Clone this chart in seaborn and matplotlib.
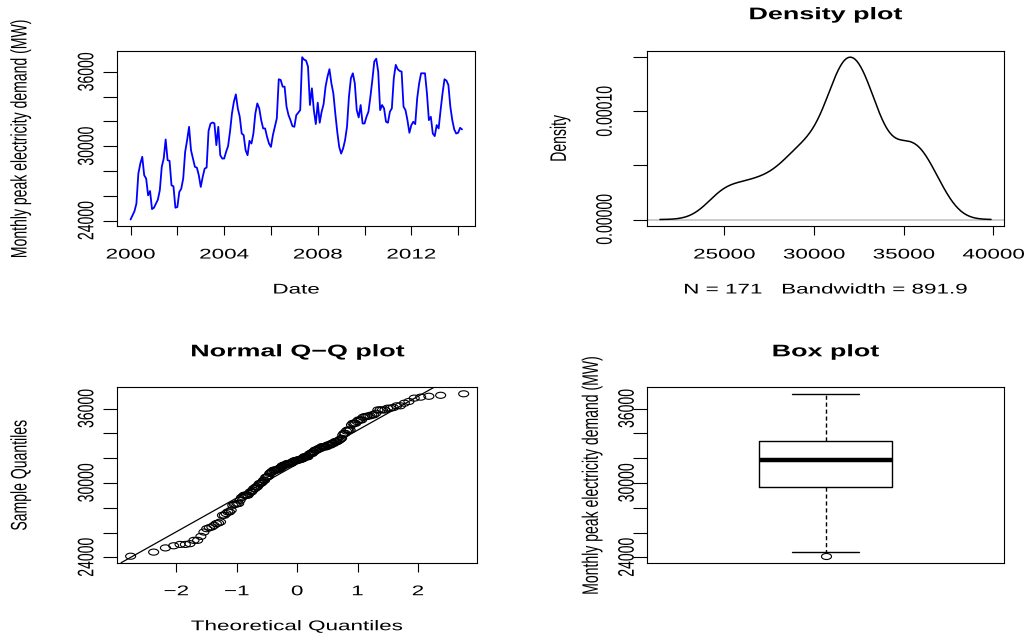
import numpy as np
import pandas as pd
import seaborn as sns
import matplotlib
matplotlib.use("Agg")
import matplotlib.pyplot as plt
from matplotlib.patheffects import AbstractPathEffect
from matplotlib.transforms import Affine2D
from matplotlib.path import Path
from matplotlib.text import Text
from statistics import NormalDist

# Monthly peak electricity demand (MW), January 2000 to March 2014
demand = [
    24090, 24420, 24760, 25370, 27800, 28600, 29150, 27660, 27390, 26040, 26390, 24930,
    25040, 25370, 25690, 26450, 28340, 29010, 30550, 28880, 28820, 26850, 26770, 25040,
    25100, 26310, 26580, 27390, 29550, 30490, 31570, 29680, 29010, 28340, 28280, 27660,
    26720, 27530, 28200, 28280, 31240, 31820, 31920, 31850, 30090, 31570, 29280, 29010,
    29010, 29550, 30010, 31170, 32650, 33600, 34190, 33060, 32380, 31030, 30900, 29680,
    29280, 30440, 30220, 31030, 32650, 33460, 33060, 32110, 31440, 31440, 30760, 30220,
    29950, 30900, 31570, 32250, 35410, 35350, 34810, 34810, 33190, 32520, 32110, 31630,
    31570, 32520, 32710, 32920, 37190, 36990, 36920, 36430, 33330, 34680, 32920, 31790,
    33520, 31900, 32790, 33400, 34810, 35620, 36220, 35080, 34270, 32650, 31170, 29950,
    29410, 29820, 30490, 31570, 34000, 35490, 35890, 35080, 32920, 32330, 33330, 31840,
    31840, 32380, 32790, 34000, 35350, 36840, 37070, 36030, 32920, 33330, 33060, 31980,
    31900, 32790, 33060, 35490, 36570, 36220, 36080, 36030, 33190, 32920, 32110, 31090,
    31710, 31980, 31790, 33870, 35080, 35890, 35890, 35890, 34270, 32110, 32380, 31030,
    30820, 31710, 31440, 32920, 34270, 35410, 35300, 34950, 33190, 32110, 31360, 31030,
    31090, 31490, 31360,
]
start_year = 2000

year_ticks = [2000, 2002, 2004, 2006, 2008, 2010, 2012, 2014]
year_tick_labels = ["2000", "", "2004", "", "2008", "", "2012", ""]
demand_ticks = [24000, 26000, 28000, 30000, 32000, 34000, 36000]
demand_tick_labels = ["24000", "", "", "30000", "", "", "36000"]
density_x_ticks = [25000, 30000, 35000, 40000]
density_x_tick_labels = ["25000", "30000", "35000", "40000"]
density_y_ticks = [0.0, 0.00005, 0.00010, 0.00015]
density_y_tick_labels = ["0.00000", "", "0.00010", ""]
qq_x_ticks = [-2, -1, 0, 1, 2]
qq_x_tick_labels = ["\u22122", "\u22121", "0", "1", "2"]
bandwidth = 891.9

demand_label = "Monthly peak electricity demand (MW)"

W, H = 1029, 636
BASE = 10.1      # regular text size (pt)
TITLE = 12.1     # panel titles (pt)

sns.set_style("ticks")
plt.rcParams.update({
    "axes.edgecolor": "black",
    "axes.linewidth": 0.8,
    "xtick.color": "black",
    "ytick.color": "black",
    "text.color": "black",
    "axes.labelcolor": "black",
    "axes.facecolor": "white",
    "figure.facecolor": "white",
})
plt.rcParams["font.family"] = ["Liberation Sans", "DejaVu Sans"]


class WideGlyphs(AbstractPathEffect):
    """Fill text outlines widened horizontally about their own centre."""

    def __init__(self, factor):
        super().__init__()
        self.factor = factor

    def draw_path(self, renderer, gc, tpath, affine, rgbFace=None):
        if len(tpath.vertices) == 0:
            return
        box = tpath.transformed(affine).get_extents()
        cx = 0.5 * (box.x0 + box.x1)
        widen = Affine2D().translate(-cx, 0).scale(self.factor, 1).translate(cx, 0)
        renderer.draw_path(gc, tpath, affine + widen, rgbFace)


def r_range(lo, hi):
    pad = 0.04 * (hi - lo)
    return lo - pad, hi + pad


fig = plt.figure(figsize=(W / 100, H / 100), dpi=100)


def px_axes(left, top, right, bottom):
    return fig.add_axes([left / W, 1 - bottom / H, (right - left) / W, (bottom - top) / H])


ax_ts = px_axes(117.3, 50.7, 475.3, 226.0)
ax_kde = px_axes(646.7, 50.7, 1004.3, 226.0)
ax_qq = px_axes(117.3, 387.3, 477.0, 562.7)
ax_box = px_axes(646.7, 387.3, 1004.3, 562.7)

values = np.asarray(demand, dtype=float)
n = len(values)

# open circle squashed vertically, used for sample points and outliers
ring = Path.unit_circle().transformed(Affine2D().scale(1.65, 1.0))

# --- time series -----------------------------------------------------------
ts = pd.DataFrame({"date": start_year + np.arange(n) / 12.0, "demand": values})
sns.lineplot(data=ts, x="date", y="demand", ax=ax_ts, color="#0000FF", linewidth=1.3)
ax_ts.set_xlim(*r_range(ts["date"].min(), ts["date"].max()))
ax_ts.set_ylim(*r_range(values.min(), values.max()))
ax_ts.set_xticks(year_ticks, labels=year_tick_labels)
ax_ts.set_yticks(demand_ticks, labels=demand_tick_labels)

# --- density ---------------------------------------------------------------
sns.kdeplot(x=values, ax=ax_kde, bw_method=bandwidth / values.std(ddof=1),
            cut=3, gridsize=512, color="black", linewidth=1.1)
kx = ax_kde.lines[0].get_xdata()
ky = ax_kde.lines[0].get_ydata()
ax_kde.axhline(0, color="#BEBEBE", linewidth=1.1, zorder=1)
ax_kde.set_xlim(*r_range(kx.min(), kx.max()))
ax_kde.set_ylim(*r_range(0.0, ky.max()))
ax_kde.set_xticks(density_x_ticks, labels=density_x_tick_labels)
ax_kde.set_yticks(density_y_ticks, labels=density_y_tick_labels)

# --- normal Q-Q --------------------------------------------------------------
probs = (np.arange(1, n + 1) - 0.5) / n
theoretical = np.array([NormalDist().inv_cdf(p) for p in probs])
sample = np.sort(values)
sns.scatterplot(x=theoretical, y=sample, ax=ax_qq, marker=ring, s=52,
                facecolors="none", edgecolor="black", linewidth=0.8)
q1, q3 = np.quantile(values, [0.25, 0.75])
z1, z3 = NormalDist().inv_cdf(0.25), NormalDist().inv_cdf(0.75)
ax_qq.axline((z1, q1), slope=(q3 - q1) / (z3 - z1), color="black", linewidth=0.9)
ax_qq.set_xlim(*r_range(theoretical.min(), theoretical.max()))
ax_qq.set_ylim(*r_range(values.min(), values.max()))
ax_qq.set_xticks(qq_x_ticks, labels=qq_x_tick_labels)
ax_qq.set_yticks(demand_ticks, labels=demand_tick_labels)

# --- box plot ----------------------------------------------------------------
sns.boxplot(y=values, ax=ax_box, width=0.372, fill=False, color="black",
            linewidth=1.0, whis=1.5,
            medianprops={"linewidth": 3.2, "color": "black"},
            whiskerprops={"linestyle": (0, (3, 2)), "color": "black"},
            capprops={"color": "black"},
            boxprops={"color": "black"},
            flierprops={"marker": ring, "markersize": 7.2, "markerfacecolor": "none",
                        "markeredgecolor": "black", "markeredgewidth": 0.8})
ax_box.set_xlim(-0.5, 0.5)
ax_box.set_ylim(*r_range(values.min(), values.max()))
ax_box.set_xticks([])
ax_box.set_yticks(demand_ticks, labels=demand_tick_labels)

# --- shared styling ------------------------------------------------------------
axes_px = {
    # axes: (width px, height px, y tick label centre offset, y label centre offset)
    ax_ts: (358.0, 175.3, 31, 97),
    ax_kde: (357.6, 175.3, 42, 87),
    ax_qq: (359.7, 175.4, 31, 97),
    ax_box: (357.6, 175.4, 20, 55),
}
for ax, (wpx, hpx, tick_off, lab_off) in axes_px.items():
    for side in ["top", "right", "bottom", "left"]:
        ax.spines[side].set_visible(True)
        ax.spines[side].set_linewidth(0.8)
    ax.tick_params(axis="x", direction="out", length=6.5, width=0.8, pad=9.0, labelsize=BASE)
    ax.tick_params(axis="y", direction="out", length=10.0, width=0.8,
                   pad=(tick_off - 14) * 0.72, labelsize=BASE, labelrotation=90)
    plt.setp(ax.get_yticklabels(), va="center", ha="center")
    ax.set_xlabel("")
    ax.set_ylabel("")
    ax.grid(False)

ax_ts.set_xlabel("Date", fontsize=BASE, va="center")
ax_ts.set_ylabel(demand_label, fontsize=BASE, va="center")
ax_kde.set_xlabel(f"N = {n}   Bandwidth = {bandwidth}", fontsize=BASE, va="center")
ax_kde.set_ylabel("Density", fontsize=BASE, va="center")
ax_qq.set_xlabel("Theoretical Quantiles", fontsize=BASE, va="center")
ax_qq.set_ylabel("Sample Quantiles", fontsize=BASE, va="center")
ax_box.set_ylabel(demand_label, fontsize=BASE, va="center")

title_kw = dict(fontsize=TITLE, fontweight="bold", va="center", pad=0)
ax_kde.set_title("Density plot", y=1 + 36 / 175.3, **title_kw)
ax_qq.set_title("Normal Q\u2212Q plot", y=1 + 35.5 / 175.4, **title_kw)
ax_box.set_title("Box plot", y=1 + 35.5 / 175.4, **title_kw)

for ax, (wpx, hpx, tick_off, lab_off) in axes_px.items():
    ax.yaxis.set_label_coords(-lab_off / wpx, 0.5)
    ax.xaxis.set_label_coords(0.5, -63.5 / hpx)

fig.canvas.draw()
for t in fig.findobj(Text):
    t.set_path_effects([WideGlyphs(1.6)])

fig.savefig("out.png", dpi=100)
